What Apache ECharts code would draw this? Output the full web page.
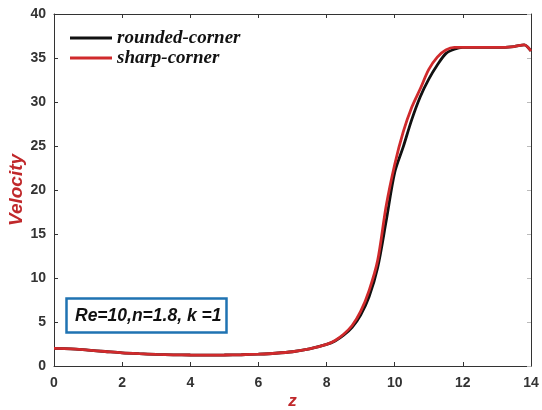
<!DOCTYPE html>
<html>
<head>
<meta charset="utf-8">
<script src="https://cdn.jsdelivr.net/npm/echarts@6/dist/echarts.min.js"></script>
<style>
  html, body { margin: 0; padding: 0; background: #fff; }
  #chart { width: 542px; height: 410px; }
</style>
</head>
<body>
<div id="chart"></div>
<script>
// Axial position z along the channel
const zValues = [0, 0.5, 1, 1.5, 2, 2.5, 3, 3.5, 4, 4.5, 5, 5.5, 6, 6.5, 7, 7.5, 8, 8.25, 8.5, 8.75,
  9, 9.25, 9.5, 9.75, 10, 10.25, 10.5, 10.75, 11, 11.25, 11.5, 11.75, 12, 12.5, 13, 13.5, 13.8, 14];

// Centreline velocity for each geometry
const roundedCorner = [2.0, 1.95, 1.8, 1.65, 1.5, 1.4, 1.32, 1.27, 1.25, 1.24, 1.25, 1.28, 1.35, 1.45, 1.62, 1.95, 2.45, 2.85, 3.5, 4.4,
  5.8, 7.9, 11.2, 16.5, 22.0, 24.9, 28.0, 30.6, 32.6, 34.2, 35.5, 36.0, 36.2, 36.2, 36.2, 36.3, 36.5, 35.8];
const sharpCorner = [2.0, 1.95, 1.8, 1.65, 1.5, 1.4, 1.32, 1.27, 1.25, 1.24, 1.25, 1.28, 1.35, 1.45, 1.62, 1.95, 2.45, 2.9, 3.6, 4.6,
  6.2, 8.6, 12.0, 18.2, 22.9, 26.6, 29.4, 31.5, 33.7, 35.1, 35.9, 36.2, 36.2, 36.2, 36.2, 36.3, 36.5, 35.8];

const xTicks = [0, 2, 4, 6, 8, 10, 12, 14];
const yTicks = [0, 5, 10, 15, 20, 25, 30, 35, 40];
const annotationText = 'Re=10,n=1.8, k =1';

const pairs = ys => zValues.map((z, i) => [z, ys[i]]);

const axisColor = '#333';
const labelFont = { fontFamily: 'Liberation Sans, Arial, sans-serif', fontWeight: 'bold', fontSize: 14, color: '#333' };
const nameFont = { fontFamily: 'Liberation Sans, Arial, sans-serif', fontStyle: 'italic', fontWeight: 'bold', color: '#c0282b' };

const chart = echarts.init(document.getElementById('chart'));
chart.setOption({
  animation: false,
  backgroundColor: '#fff',
  grid: { left: 54, right: 11, top: 14, bottom: 44, containLabel: false, outerBoundsMode: 'none' },
  title: {
    text: annotationText,
    left: 66, top: 298,
    borderColor: '#1f73b2', borderWidth: 2.5,
    padding: [8, 5, 7, 9],
    textStyle: { fontFamily: 'Liberation Sans, Arial, sans-serif', fontStyle: 'italic', fontWeight: 'bold', fontSize: 17.5, lineHeight: 20, color: '#111' }
  },
  legend: {
    orient: 'vertical',
    left: 65, top: 23,
    itemWidth: 42, itemHeight: 3, itemGap: 0,
    icon: 'rect',
    textStyle: { fontFamily: 'Liberation Serif, Times New Roman, serif', fontStyle: 'italic', fontWeight: 'bold', fontSize: 19, lineHeight: 20, color: '#111' },
    data: ['rounded-corner', 'sharp-corner']
  },
  xAxis: [{
    type: 'value', min: 0, max: 14, interval: 2,
    name: 'z', nameLocation: 'middle', nameGap: 27, nameMoveOverlap: false,
    nameTextStyle: Object.assign({ fontSize: 17 }, nameFont),
    axisLine: { show: true, onZero: false, lineStyle: { color: axisColor, width: 1 } },
    axisTick: { show: true, inside: true, length: 4, lineStyle: { color: axisColor } },
    axisLabel: Object.assign({ margin: 10, formatter: v => xTicks.includes(v) ? String(v) : '' }, labelFont),
    splitLine: { show: false }
  }, {
    type: 'value', min: 0, max: 14, interval: 2, position: 'top',
    axisLine: { show: true, onZero: false, lineStyle: { color: axisColor, width: 1 } },
    axisTick: { show: true, inside: true, length: 4, lineStyle: { color: axisColor } },
    axisLabel: { show: false }, splitLine: { show: false }
  }],
  yAxis: [{
    type: 'value', min: 0, max: 40, interval: 5,
    name: 'Velocity', nameLocation: 'middle', nameGap: 28, nameMoveOverlap: false,
    nameTextStyle: Object.assign({ fontSize: 19 }, nameFont),
    axisLine: { show: true, onZero: false, lineStyle: { color: axisColor, width: 1 } },
    axisTick: { show: true, inside: true, length: 4, lineStyle: { color: axisColor } },
    axisLabel: Object.assign({ margin: 8, formatter: v => yTicks.includes(v) ? String(v) : '' }, labelFont),
    splitLine: { show: false }
  }, {
    type: 'value', min: 0, max: 40, interval: 5, position: 'right',
    axisLine: { show: true, onZero: false, lineStyle: { color: axisColor, width: 1 } },
    axisTick: { show: true, inside: true, length: 4, lineStyle: { color: '#bbb' } },
    axisLabel: { show: false }, splitLine: { show: false }
  }],
  series: [{
    name: 'rounded-corner', type: 'line', xAxisIndex: 0, yAxisIndex: 0,
    data: pairs(roundedCorner), smooth: 0.3, showSymbol: false,
    color: '#111', lineStyle: { color: '#111', width: 2.8 }, z: 2
  }, {
    name: 'sharp-corner', type: 'line', xAxisIndex: 0, yAxisIndex: 0,
    data: pairs(sharpCorner), smooth: 0.3, showSymbol: false,
    color: '#d02a2c', lineStyle: { color: '#d02a2c', width: 2.8 }, z: 3
  }]
});
</script>
</body>
</html>
